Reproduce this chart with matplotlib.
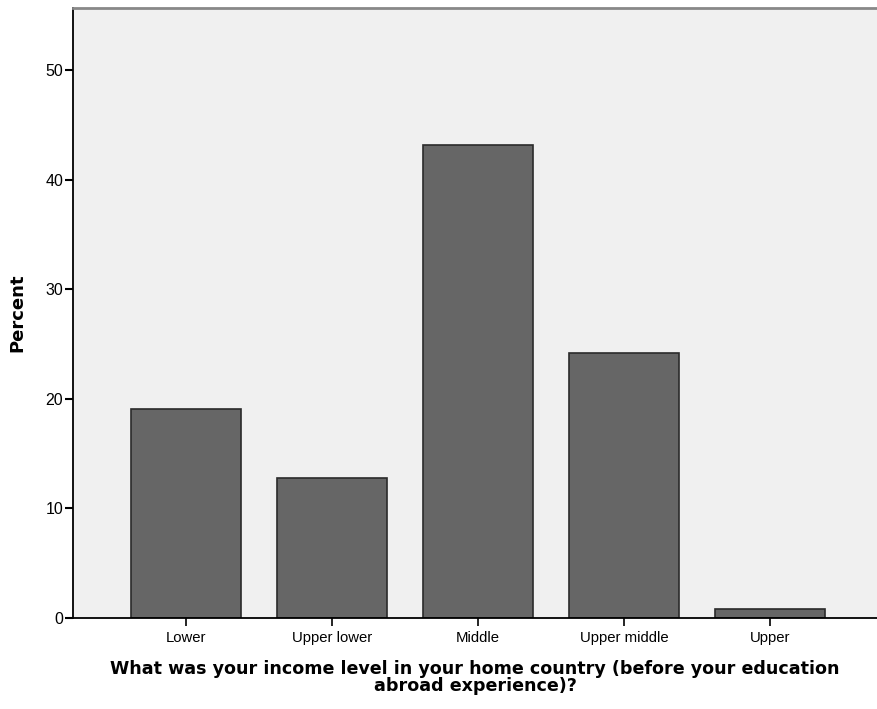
import matplotlib
matplotlib.use('Agg')
import matplotlib.pyplot as plt

categories = ['Lower', 'Upper lower', 'Middle', 'Upper middle', 'Upper']
percent = [19.1, 12.8, 43.2, 24.2, 0.8]

plt.rcParams['font.family'] = ['Liberation Sans', 'DejaVu Sans']

fig = plt.figure(figsize=(8.77, 7.09), dpi=100)
ax = fig.add_axes([0.0832, 0.1283, 0.9168, 0.8604])
ax.set_facecolor('#f0f0f0')

x = list(range(len(categories)))
ax.bar(x, percent, width=0.747, color='#666666', edgecolor='#2b2b2b', linewidth=1.2, zorder=2)

ax.set_xlim(-0.774, 4.733)
ax.set_ylim(0, 55.66)
ax.set_yticks([0, 10, 20, 30, 40, 50])
ax.set_xticks(x)
ax.set_xticklabels(categories, fontsize=10.7)
ax.tick_params(axis='y', labelsize=11.5, length=6, width=1.5, color='black', pad=1)
ax.tick_params(axis='x', length=6, width=1.2, pad=3)

for s in ['left', 'bottom']:
    ax.spines[s].set_color('black')
    ax.spines[s].set_linewidth(1.3)
ax.spines['top'].set_color('#888888')
ax.spines['top'].set_linewidth(2)
ax.spines['right'].set_visible(False)

ax.set_ylabel('Percent', fontsize=13, fontweight='bold', family='DejaVu Sans', labelpad=14)
ax.set_xlabel('What was your income level in your home country (before your education\nabroad experience)?',
              fontsize=12.6, fontweight='bold', family='DejaVu Sans', linespacing=0.95, labelpad=11)

fig.savefig('out.png', dpi=100)
